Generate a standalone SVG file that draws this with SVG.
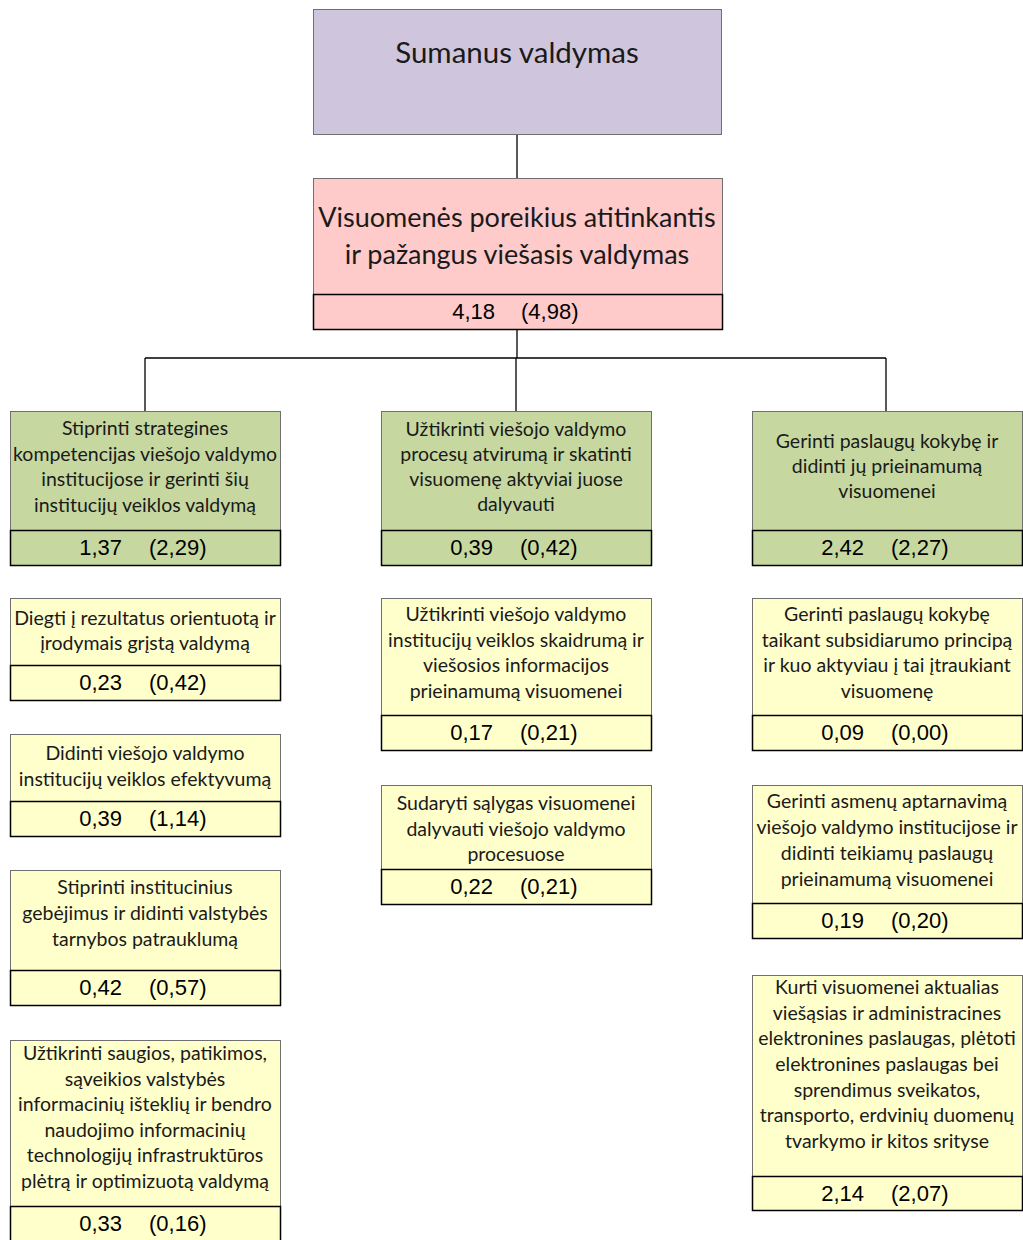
<svg xmlns="http://www.w3.org/2000/svg" width="1023" height="1240" viewBox="0 0 1023 1240">
<style>
.bx{stroke:#6f6f6f;stroke-width:1}
.top{fill:#cfc6dd}
.pink{fill:#ffcaca}
.green{fill:#c6d8a0}
.yel{fill:#ffffcc}
.val{fill:none;stroke:#000;stroke-width:1.5}
.t{font-family:Lato,"Liberation Sans",sans-serif;font-size:19.5px;fill:#1a1a1a;text-anchor:middle}
.big{font-size:27px}
.huge{font-size:29.5px}
.v{font-family:"Liberation Sans",Arial,sans-serif;font-size:22px;fill:#000}
.l{text-anchor:end}
.r{text-anchor:start}
.c{fill:none;stroke:#000;stroke-width:1.3}
</style>
<rect width="1023" height="1240" fill="#fff"/>
<g id="connectors">
<path class="c" d="M517 134V178M517 329V358M145 358H886M145 358V411M516 358V411M886 358V411"/>
</g>
<g id="n0">
<rect class="bx top" x="313.5" y="9.5" width="408" height="125"/>
<text class="t huge" x="517" y="63">Sumanus valdymas</text>
</g>
<g id="n1">
<rect class="bx pink" x="313.5" y="178.5" width="409" height="151"/>
<rect class="val" x="313.5" y="294.5" width="409" height="35"/>
<text class="t big" x="517" y="227">Visuomenės poreikius atitinkantis</text>
<text class="t big" x="517" y="264">ir pažangus viešasis valdymas</text>
<text class="v l" x="495" y="319">4,18</text><text class="v r" x="521" y="319">(4,98)</text>
</g>
<g id="g1">
<rect class="bx green" x="10.5" y="411.5" width="270" height="154"/>
<rect class="val" x="10.5" y="530.5" width="270" height="35"/>
<text class="t" x="145" y="435">Stiprinti strategines</text>
<text class="t" x="145" y="461">kompetencijas viešojo valdymo</text>
<text class="t" x="145" y="486">institucijose ir gerinti šių</text>
<text class="t" x="145" y="512">institucijų veiklos valdymą</text>
<text class="v l" x="122" y="555">1,37</text><text class="v r" x="149" y="555">(2,29)</text>
</g>
<g id="g2">
<rect class="bx green" x="381.5" y="411.5" width="270" height="154"/>
<rect class="val" x="381.5" y="530.5" width="270" height="35"/>
<text class="t" x="516" y="436">Užtikrinti viešojo valdymo</text>
<text class="t" x="516" y="461">procesų atvirumą ir skatinti</text>
<text class="t" x="516" y="486">visuomenę aktyviai juose</text>
<text class="t" x="516" y="511">dalyvauti</text>
<text class="v l" x="493" y="555">0,39</text><text class="v r" x="520" y="555">(0,42)</text>
</g>
<g id="g3">
<rect class="bx green" x="752.5" y="411.5" width="270" height="154"/>
<rect class="val" x="752.5" y="530.5" width="270" height="35"/>
<text class="t" x="887" y="448">Gerinti paslaugų kokybę ir</text>
<text class="t" x="887" y="473">didinti jų prieinamumą</text>
<text class="t" x="887" y="498">visuomenei</text>
<text class="v l" x="864" y="555">2,42</text><text class="v r" x="891" y="555">(2,27)</text>
</g>
<g id="y1">
<rect class="bx yel" x="10.5" y="598.5" width="270" height="102"/>
<rect class="val" x="10.5" y="665.5" width="270" height="35"/>
<text class="t" x="145" y="625">Diegti į rezultatus orientuotą ir</text>
<text class="t" x="145" y="650">įrodymais grįstą valdymą</text>
<text class="v l" x="122" y="690">0,23</text><text class="v r" x="149" y="690">(0,42)</text>
</g>
<g id="y2">
<rect class="bx yel" x="10.5" y="734.5" width="270" height="102"/>
<rect class="val" x="10.5" y="801.5" width="270" height="35"/>
<text class="t" x="145" y="760">Didinti viešojo valdymo</text>
<text class="t" x="145" y="786">institucijų veiklos efektyvumą</text>
<text class="v l" x="122" y="826">0,39</text><text class="v r" x="149" y="826">(1,14)</text>
</g>
<g id="y3">
<rect class="bx yel" x="10.5" y="870.5" width="270" height="135"/>
<rect class="val" x="10.5" y="970.5" width="270" height="35"/>
<text class="t" x="145" y="894">Stiprinti institucinius</text>
<text class="t" x="145" y="920">gebėjimus ir didinti valstybės</text>
<text class="t" x="145" y="946">tarnybos patrauklumą</text>
<text class="v l" x="122" y="995">0,42</text><text class="v r" x="149" y="995">(0,57)</text>
</g>
<g id="y4">
<rect class="bx yel" x="10.5" y="1040.5" width="270" height="205"/>
<rect class="val" x="10.5" y="1206.5" width="270" height="40"/>
<text class="t" x="145" y="1060">Užtikrinti saugios, patikimos,</text>
<text class="t" x="145" y="1086">sąveikios valstybės</text>
<text class="t" x="145" y="1111">informacinių išteklių ir bendro</text>
<text class="t" x="145" y="1137">naudojimo informacinių</text>
<text class="t" x="145" y="1162">technologijų infrastruktūros</text>
<text class="t" x="145" y="1188">plėtrą ir optimizuotą valdymą</text>
<text class="v l" x="122" y="1231">0,33</text><text class="v r" x="149" y="1231">(0,16)</text>
</g>
<g id="y5">
<rect class="bx yel" x="381.5" y="598.5" width="270" height="152"/>
<rect class="val" x="381.5" y="715.5" width="270" height="35"/>
<text class="t" x="516" y="621">Užtikrinti viešojo valdymo</text>
<text class="t" x="516" y="647">institucijų veiklos skaidrumą ir</text>
<text class="t" x="516" y="672">viešosios informacijos</text>
<text class="t" x="516" y="698">prieinamumą visuomenei</text>
<text class="v l" x="493" y="740">0,17</text><text class="v r" x="520" y="740">(0,21)</text>
</g>
<g id="y6">
<rect class="bx yel" x="381.5" y="785.5" width="270" height="119"/>
<rect class="val" x="381.5" y="869.5" width="270" height="35"/>
<text class="t" x="516" y="810">Sudaryti sąlygas visuomenei</text>
<text class="t" x="516" y="836">dalyvauti viešojo valdymo</text>
<text class="t" x="516" y="861">procesuose</text>
<text class="v l" x="493" y="894">0,22</text><text class="v r" x="520" y="894">(0,21)</text>
</g>
<g id="y7">
<rect class="bx yel" x="752.5" y="598.5" width="270" height="152"/>
<rect class="val" x="752.5" y="715.5" width="270" height="35"/>
<text class="t" x="887" y="621">Gerinti paslaugų kokybę</text>
<text class="t" x="887" y="647">taikant subsidiarumo principą</text>
<text class="t" x="887" y="672">ir kuo aktyviau į tai įtraukiant</text>
<text class="t" x="887" y="698">visuomenę</text>
<text class="v l" x="864" y="740">0,09</text><text class="v r" x="891" y="740">(0,00)</text>
</g>
<g id="y8">
<rect class="bx yel" x="752.5" y="785.5" width="270" height="153"/>
<rect class="val" x="752.5" y="903.5" width="270" height="35"/>
<text class="t" x="887" y="808">Gerinti asmenų aptarnavimą</text>
<text class="t" x="887" y="834">viešojo valdymo institucijose ir</text>
<text class="t" x="887" y="860">didinti teikiamų paslaugų</text>
<text class="t" x="887" y="886">prieinamumą visuomenei</text>
<text class="v l" x="864" y="928">0,19</text><text class="v r" x="891" y="928">(0,20)</text>
</g>
<g id="y9">
<rect class="bx yel" x="752.5" y="975.5" width="270" height="235"/>
<rect class="val" x="752.5" y="1176.5" width="270" height="34"/>
<text class="t" x="887" y="994">Kurti visuomenei aktualias</text>
<text class="t" x="887" y="1020">viešąsias ir administracines</text>
<text class="t" x="887" y="1045">elektronines paslaugas, plėtoti</text>
<text class="t" x="887" y="1071">elektronines paslaugas bei</text>
<text class="t" x="887" y="1097">sprendimus sveikatos,</text>
<text class="t" x="887" y="1122">transporto, erdvinių duomenų</text>
<text class="t" x="887" y="1148">tvarkymo ir kitos srityse</text>
<text class="v l" x="864" y="1201">2,14</text><text class="v r" x="891" y="1201">(2,07)</text>
</g>
</svg>
